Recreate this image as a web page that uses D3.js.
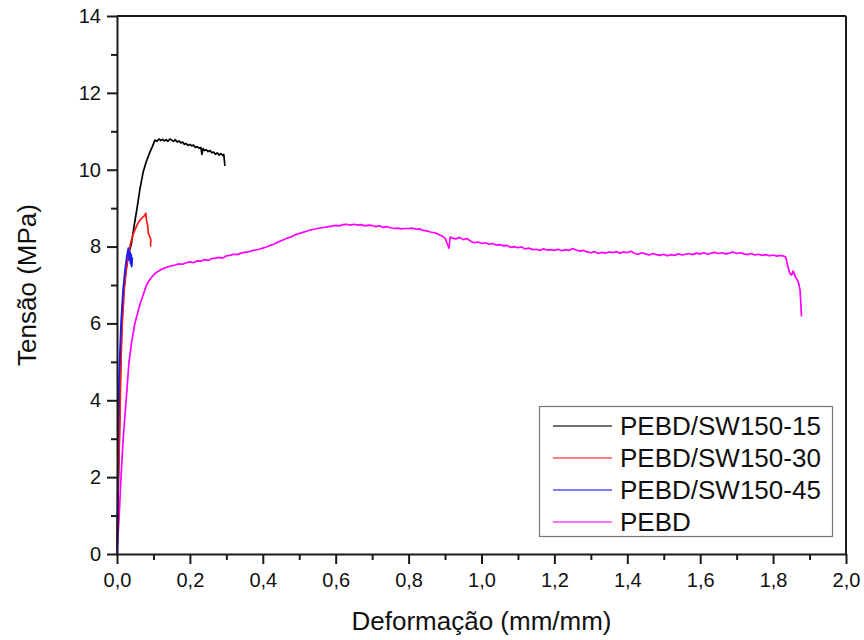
<!DOCTYPE html>
<html>
<head>
<meta charset="utf-8">
<script src="https://cdn.jsdelivr.net/npm/d3@7"></script>
<style>
  html, body { margin: 0; padding: 0; background: #fff; }
  svg { display: block; font-family: "Liberation Sans", Arial, Helvetica, sans-serif; }
</style>
</head>
<body>
<svg id="chart" width="864" height="640"></svg>
<script>
// ---- Data ----
const seriesNames = ["PEBD/SW150-15", "PEBD/SW150-30", "PEBD/SW150-45", "PEBD"];
const seriesColors = ["#000000", "#ff1a1a", "#1a1aff", "#ff00ff"];

const xTicks = [0, 0.2, 0.4, 0.6, 0.8, 1.0, 1.2, 1.4, 1.6, 1.8, 2.0];
const yTicks = [0, 2, 4, 6, 8, 10, 12, 14];
const xTitle = "Deformação (mm/mm)";
const yTitle = "Tensão (MPa)";

// [strain, stress]
const sw15 = [
  [0,0],[0.002,1],[0.004,2],[0.006,3],[0.008,4],[0.010,5],[0.013,6],[0.018,6.8],[0.025,7.4],
  [0.032,7.8],[0.040,8.1],[0.048,8.6],[0.055,9.0],[0.063,9.5],[0.072,9.95],[0.080,10.2],
  [0.090,10.45],[0.097,10.6],[0.104,10.77],[0.110,10.74],[0.115,10.80],[0.120,10.76],
  [0.125,10.79],[0.130,10.75],[0.135,10.78],[0.140,10.74],[0.145,10.80],[0.150,10.77],
  [0.155,10.74],[0.160,10.78],[0.165,10.72],[0.170,10.75],[0.175,10.70],[0.180,10.72],
  [0.185,10.66],[0.190,10.68],[0.195,10.63],[0.200,10.66],[0.205,10.62],[0.210,10.64],
  [0.215,10.58],[0.220,10.60],[0.225,10.56],[0.230,10.58],[0.233,10.40],[0.236,10.55],
  [0.240,10.50],[0.245,10.52],[0.250,10.47],[0.255,10.50],[0.260,10.44],[0.265,10.46],
  [0.270,10.40],[0.275,10.44],[0.280,10.38],[0.285,10.42],[0.290,10.37],[0.293,10.40],[0.296,10.10]
];
const sw30 = [
  [0,0],[0.002,1],[0.004,2],[0.007,3],[0.009,4],[0.011,5],[0.0146,6],[0.020,6.9],[0.028,7.6],
  [0.036,8.04],[0.042,8.25],[0.049,8.43],[0.056,8.58],[0.063,8.69],[0.070,8.76],[0.075,8.80],
  [0.079,8.87],[0.081,8.69],[0.084,8.55],[0.086,8.35],[0.089,8.28],[0.093,8.17],[0.092,8.05],[0.093,8.0]
];
const sw45 = [
  [0,0],[0.001,1],[0.002,2],[0.003,3],[0.004,4],[0.007,5],[0.011,6],[0.016,6.8],[0.022,7.4],
  [0.027,7.75],[0.031,7.96],[0.033,7.83],[0.034,7.65],[0.036,7.85],[0.037,7.55],[0.039,7.80],
  [0.040,7.48],[0.042,7.70],[0.041,7.50]
];
const pebd = [
  [0,0],[0.003,0.5],[0.006,1.0],[0.011,2.0],[0.017,3.0],[0.025,4.0],[0.033,5.0],[0.040,5.5],
  [0.049,6.0],[0.063,6.5],[0.081,7.0],[0.092,7.17],[0.104,7.3],[0.120,7.4],[0.136,7.46],[0.150,7.5],
  [0.16,7.52],[0.17,7.55],[0.18,7.54],[0.19,7.58],[0.20,7.60],[0.21,7.58],[0.22,7.63],[0.23,7.62],
  [0.24,7.66],[0.25,7.64],[0.26,7.69],[0.27,7.70],[0.28,7.72],[0.29,7.70],[0.30,7.76],[0.31,7.77],
  [0.32,7.80],[0.33,7.79],[0.34,7.83],[0.35,7.85],[0.36,7.86],[0.37,7.89],[0.38,7.91],[0.39,7.93],
  [0.40,7.96],[0.41,7.99],[0.42,8.03],[0.43,8.06],[0.44,8.11],[0.45,8.15],[0.46,8.19],[0.47,8.23],
  [0.48,8.26],[0.49,8.31],[0.50,8.34],[0.51,8.37],[0.52,8.40],[0.53,8.43],[0.54,8.45],[0.55,8.47],
  [0.56,8.49],[0.57,8.50],[0.58,8.52],[0.59,8.53],[0.60,8.55],[0.61,8.54],[0.62,8.57],[0.63,8.58],
  [0.64,8.56],[0.65,8.58],[0.66,8.56],[0.67,8.57],[0.68,8.54],[0.69,8.56],[0.70,8.55],[0.71,8.52],
  [0.72,8.54],[0.73,8.50],[0.74,8.52],[0.75,8.49],[0.76,8.47],[0.77,8.48],[0.78,8.46],[0.79,8.47],
  [0.80,8.47],[0.81,8.48],[0.82,8.45],[0.83,8.46],[0.84,8.42],[0.85,8.41],[0.86,8.38],[0.87,8.36],
  [0.88,8.33],[0.89,8.28],[0.90,8.22],[0.905,8.10],[0.911,7.96],[0.914,8.25],[0.92,8.22],[0.93,8.20],
  [0.94,8.24],[0.95,8.18],[0.96,8.21],[0.97,8.14],[0.98,8.10],[0.99,8.12],[1.00,8.08],[1.01,8.10],
  [1.02,8.06],[1.03,8.08],[1.04,8.04],[1.05,8.05],[1.06,8.02],[1.07,8.03],[1.08,7.98],[1.09,8.00],
  [1.10,7.97],[1.11,7.99],[1.12,7.94],[1.13,7.96],[1.14,7.92],[1.15,7.93],[1.16,7.90],[1.17,7.94],
  [1.18,7.91],[1.19,7.92],[1.20,7.90],[1.21,7.93],[1.22,7.89],[1.23,7.92],[1.24,7.90],[1.25,7.95],
  [1.26,7.91],[1.27,7.88],[1.28,7.90],[1.29,7.86],[1.30,7.84],[1.31,7.87],[1.32,7.82],[1.33,7.85],
  [1.34,7.83],[1.35,7.86],[1.36,7.84],[1.37,7.87],[1.38,7.83],[1.39,7.86],[1.40,7.84],[1.41,7.88],
  [1.42,7.82],[1.43,7.80],[1.44,7.84],[1.45,7.81],[1.46,7.78],[1.47,7.82],[1.48,7.79],[1.49,7.77],
  [1.50,7.80],[1.51,7.76],[1.52,7.79],[1.53,7.77],[1.54,7.81],[1.55,7.78],[1.56,7.80],[1.57,7.82],
  [1.58,7.79],[1.59,7.83],[1.60,7.81],[1.61,7.84],[1.62,7.80],[1.63,7.83],[1.64,7.85],[1.65,7.82],
  [1.66,7.84],[1.67,7.81],[1.68,7.83],[1.69,7.86],[1.70,7.82],[1.71,7.84],[1.72,7.81],[1.73,7.79],
  [1.74,7.82],[1.75,7.78],[1.76,7.80],[1.77,7.77],[1.78,7.79],[1.79,7.76],[1.80,7.78],[1.81,7.75],
  [1.82,7.77],[1.83,7.75],[1.835,7.72],[1.841,7.47],[1.846,7.30],[1.851,7.26],[1.855,7.36],
  [1.862,7.20],[1.869,7.08],[1.874,6.87],[1.878,6.18]
];
const seriesData = [sw15, sw30, sw45, pebd];

// ---- Layout ----
const svg = d3.select("#chart");
const M = { left: 117, right: 846, top: 16, bottom: 554 };
const x = d3.scaleLinear().domain([0, 2.0]).range([M.left, M.right]);
const y = d3.scaleLinear().domain([0, 14]).range([M.bottom, M.top]);

const axisColor = "#1a1a1a";
const fmtX = d => d3.format(".1f")(d).replace(".", ",");
const fmtY = d => d3.format("d")(d);

const xMinor = d3.range(0.1, 2.0, 0.2);
const yMinor = d3.range(1, 14, 2);

// data lines
const line = d3.line().x(d => x(d[0])).y(d => y(d[1]));
const plot = svg.append("g");
[3, 0, 1, 2].forEach(i => {
  plot.append("path")
    .datum(seriesData[i])
    .style("fill", "none")
    .style("stroke", seriesColors[i])
    .style("stroke-width", "1.7px")
    .style("stroke-linejoin", "round")
    .attr("d", line);
});

// frame top & right
svg.append("line").attr("x1", M.left).attr("x2", M.right).attr("y1", M.top).attr("y2", M.top)
  .style("stroke", axisColor).style("stroke-width", "2px");
svg.append("line").attr("x1", M.right).attr("x2", M.right).attr("y1", M.top).attr("y2", M.bottom)
  .style("stroke", axisColor).style("stroke-width", "2px");

// x axis
const gx = svg.append("g").attr("transform", `translate(0,${M.bottom})`)
  .call(d3.axisBottom(x).tickValues(xTicks).tickFormat(fmtX).tickSize(10).tickSizeOuter(0).tickPadding(6));
svg.append("g").attr("transform", `translate(0,${M.bottom})`)
  .call(d3.axisBottom(x).tickValues(xMinor).tickFormat("").tickSize(6).tickSizeOuter(0))
  .call(g => g.select(".domain").remove())
  .selectAll("line").style("stroke", axisColor).style("stroke-width", "2px");

// y axis
const gy = svg.append("g").attr("transform", `translate(${M.left},0)`)
  .call(d3.axisLeft(y).tickValues(yTicks).tickFormat(fmtY).tickSize(10).tickSizeOuter(0).tickPadding(6));
svg.append("g").attr("transform", `translate(${M.left},0)`)
  .call(d3.axisLeft(y).tickValues(yMinor).tickFormat("").tickSize(6).tickSizeOuter(0))
  .call(g => g.select(".domain").remove())
  .selectAll("line").style("stroke", axisColor).style("stroke-width", "2px");

[gx, gy].forEach(g => {
  g.select(".domain").style("stroke", axisColor).style("stroke-width", "2px");
  g.selectAll(".tick line").style("stroke", axisColor).style("stroke-width", "2px");
  g.selectAll(".tick text").attr("fill", "#111").style("font-size", "20px")
    .style("font-family", "'Liberation Sans', Arial, sans-serif");
});
gx.selectAll(".tick text").attr("dy", "0.85em");

// axis titles
svg.append("text")
  .attr("x", (M.left + M.right) / 2).attr("y", 630)
  .attr("text-anchor", "middle").attr("fill", "#111")
  .style("font-size", "26px").text(xTitle);
svg.append("text")
  .attr("transform", `translate(36,${(M.top + M.bottom) / 2}) rotate(-90)`)
  .attr("text-anchor", "middle").attr("fill", "#111")
  .style("font-size", "26px").text(yTitle);

// legend
const lg = svg.append("g");
lg.append("rect").attr("x", 539.5).attr("y", 406.5).attr("width", 293).attr("height", 130)
  .style("fill", "#fff").style("stroke", "#777").style("stroke-width", "1.2px");
const rowY = [426, 458, 490, 522];
seriesNames.forEach((name, i) => {
  lg.append("path")
    .attr("d", `M553,${rowY[i]}H612`)
    .style("fill", "none")
    .style("stroke", seriesColors[i])
    .style("stroke-width", "1.5px")
    .style("stroke-opacity", 0.75);
  lg.append("text").attr("x", 620).attr("y", rowY[i]).attr("dy", "0.36em")
    .attr("fill", "#111").style("font-size", "26px").text(name);
});
</script>
</body>
</html>
